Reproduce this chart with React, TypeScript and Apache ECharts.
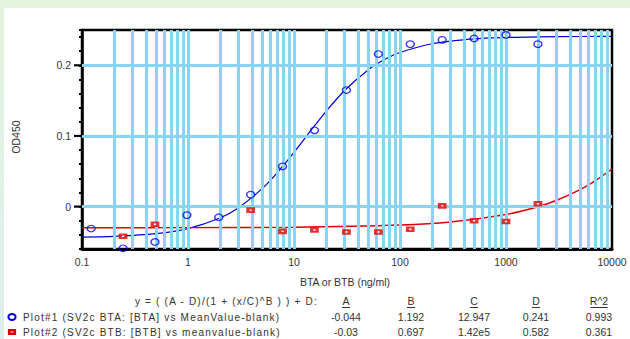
import React, { useEffect, useRef } from "react";
import * as echarts from "echarts";

// ---- data ----
const btaConc = [0.122, 0.244, 0.488, 0.977, 1.95, 3.9, 7.8, 15.6, 31.25, 62.5, 125, 250, 500, 1000, 2000];
const btaOD = [-0.031, -0.059, -0.05, -0.012, -0.015, 0.017, 0.057, 0.108, 0.165, 0.216, 0.23, 0.236, 0.238, 0.243, 0.23];
const btbConc = [0.244, 0.488, 3.9, 7.8, 15.6, 31.25, 62.5, 125, 250, 500, 1000, 2000];
const btbOD = [-0.042, -0.025, -0.005, -0.035, -0.033, -0.036, -0.036, -0.032, 0.001, -0.02, -0.021, 0.004];

// fitted curves
const fitBtaX = [0.1, 0.2, 0.5, 1, 2, 3, 5, 7, 10, 15, 20, 30, 50, 70, 100, 200, 500, 1000, 2000, 5000, 10000];
const fitBtaY = [-0.0431, -0.042, -0.0382, -0.0311, -0.0162, -0.0016, 0.0254, 0.0485, 0.0767, 0.111, 0.1346, 0.1644, 0.1935, 0.2074, 0.2181, 0.2305, 0.2374, 0.2394, 0.2403, 0.2408, 0.2409];
const fitBtbX = [0.1, 1, 10, 100, 300, 1000, 2000, 3000, 5000, 7000, 10000];
const fitBtbY = [-0.03, -0.0298, -0.0292, -0.0261, -0.0218, -0.0112, -0.0002, 0.009, 0.0242, 0.0369, 0.0532];

const xTickLabels = ["0.1", "1", "10", "100", "1000", "10000"];
const yTickLabels = ["0", "0.1", "0.2"];
const gridDecades = [0.1, 1, 10, 100, 1000];
const gridMultipliers = [1, 2, 3, 4, 5, 6, 7, 8, 9];

const formulaLabel = "y = ( (A - D)/(1 + (x/C)^B ) ) + D:";
const paramHeaders = ["A", "B", "C", "D", "R^2"];
const plot1Label = "Plot#1 (SV2c BTA: [BTA] vs MeanValue-blank)";
const plot1Params = ["-0.044", "1.192", "12.947", "0.241", "0.993"];
const plot2Label = "Plot#2 (SV2c BTB: [BTB] vs meanvalue-blank)";
const plot2Params = ["-0.03", "0.697", "1.42e5", "0.582", "0.361"];

const FONT = "'Liberation Sans', Arial, sans-serif";
const TXT = "#333";
const BLUE = "#0000dd";
const RED = "#dd0000";
const GRIDC = "#8ad4f3";
const SPACED = 10.01; // font size used by letter-spaced texts (matched by CSS below)

const colX = [346, 411, 474, 536, 599];
const rowY = [301, 317, 332];

function textEl(text: string, x: number, y: number, align: string, size = 10.5, extra: any = {}) {
  return {
    type: "text",
    x,
    y,
    silent: true,
    ...extra,
    style: {
      text,
      fill: TXT,
      font: `${size}px ${FONT}`,
      align,
      verticalAlign: "middle",
      textAlign: align,
      textVerticalAlign: "middle",
    },
  };
}

export default function App() {
  const ref = useRef<HTMLDivElement>(null);
  useEffect(() => {
    if (!ref.current) return;
    const chart = echarts.init(ref.current, null, { renderer: "svg" });

    const vLines: any[] = [];
    gridDecades.forEach((d) =>
      gridMultipliers.forEach((m) => {
        const v = Number((d * m).toPrecision(3));
        if (v > 0.1 && v < 10000) vLines.push({ xAxis: v });
      })
    );
    const hLines = yTickLabels.map((l) => ({ yAxis: Number(l) }));

    const graphics: any[] = [
      { type: "rect", shape: { x: 0, y: 0, width: 630, height: 8 }, style: { fill: "#e4f3dc" }, silent: true },
      {
        type: "rect",
        shape: { x: 0, y: 0, width: 4, height: 339 },
        style: {
          fill: new echarts.graphic.LinearGradient(0, 0, 0, 1, [
            { offset: 0, color: "#e4f3dc" },
            { offset: 1, color: "#dcefee" },
          ]),
        },
        silent: true,
      },
      textEl("OD450", 16, 137, "center", 10.5, { rotation: Math.PI / 2 }),
      textEl("BTA or BTB (ng/ml)", 345, 282, "center", 10.5),
      textEl(formulaLabel, 318, rowY[0], "right", SPACED),
    ];
    paramHeaders.forEach((h, i) => {
      graphics.push(textEl(h, colX[i], rowY[0], "center", 10.5));
      const w = h.length > 1 ? 17 : 8;
      graphics.push({
        type: "line",
        silent: true,
        shape: { x1: colX[i] - w / 2, y1: rowY[0] + 6.5, x2: colX[i] + w / 2, y2: rowY[0] + 6.5 },
        style: { stroke: TXT, lineWidth: 1 },
      });
    });
    graphics.push({
      type: "ellipse",
      silent: true,
      shape: { cx: 12, cy: rowY[1], rx: 3.6, ry: 3 },
      style: { fill: "none", stroke: BLUE, lineWidth: 2 },
    });
    graphics.push(textEl(plot1Label, 23, rowY[1], "left", SPACED));
    plot1Params.forEach((p, i) => graphics.push(textEl(p, colX[i], rowY[1], "center", 10.5)));
    graphics.push({
      type: "rect",
      silent: true,
      shape: { x: 9.2, y: rowY[2] - 1.7, width: 5.6, height: 3.4 },
      style: { fill: "#fff", stroke: RED, lineWidth: 2.6 },
    });
    graphics.push(textEl(plot2Label, 23, rowY[2], "left", SPACED));
    plot2Params.forEach((p, i) => graphics.push(textEl(p, colX[i], rowY[2], "center", 10.5)));

    const option: any = {
      animation: false,
      backgroundColor: "#fff",
      textStyle: { fontFamily: FONT },
      grid: {
        left: 82,
        top: 30,
        width: 530,
        height: 219,
        show: true,
        borderColor: "#000",
        borderWidth: 2.5,
        backgroundColor: "transparent",
        z: 3,
      },
      xAxis: {
        type: "log",
        logBase: 10,
        min: 0.1,
        max: 10000,
        z: 3,
        axisLine: { show: true, onZero: false, lineStyle: { color: "#000", width: 3 } },
        axisTick: { show: false },
        splitLine: { show: false },
        axisLabel: {
          color: TXT,
          fontSize: 10.5,
          margin: 7,
          formatter: (v: number) => xTickLabels.find((l) => Math.abs(Number(l) - v) / v < 1e-6) ?? "",
        },
      },
      yAxis: {
        type: "value",
        min: -0.06,
        max: 0.25,
        interval: 0.02,
        z: 3,
        axisLine: { show: true, onZero: false, lineStyle: { color: "#000", width: 2.5 } },
        axisTick: { show: true, length: 3, lineStyle: { color: "#000", width: 2 } },
        splitLine: { show: false },
        axisLabel: {
          color: TXT,
          fontSize: 10.5,
          margin: 11,
          showMinLabel: true,
          showMaxLabel: true,
          formatter: (v: number) => yTickLabels.find((l) => Math.abs(Number(l) - v) < 1e-9) ?? "",
        },
      },
      graphic: graphics,
      series: [
        {
          type: "line",
          data: [],
          silent: true,
          z: 1,
          markLine: {
            silent: true,
            symbol: ["none", "none"],
            label: { show: false },
            emphasis: { disabled: true },
            lineStyle: { color: GRIDC, width: 3, type: "solid" },
            data: [...vLines, ...hLines],
          },
        },
        {
          type: "line",
          data: fitBtaX.map((x, i) => [x, fitBtaY[i]]),
          smooth: 0.3,
          showSymbol: false,
          silent: true,
          z: 4,
          lineStyle: { color: BLUE, width: 1.2 },
        },
        {
          type: "line",
          data: fitBtbX.map((x, i) => [x, fitBtbY[i]]),
          smooth: 0.3,
          showSymbol: false,
          silent: true,
          z: 4,
          lineStyle: { color: RED, width: 1.4 },
        },
        {
          type: "scatter",
          data: btaConc.map((x, i) => [x, btaOD[i]]),
          symbol: "circle",
          symbolSize: [8, 6.5],
          silent: true,
          z: 5,
          itemStyle: { color: "rgba(255,255,255,0)", borderColor: "#0000ee", borderWidth: 1.3 },
        },
        {
          type: "scatter",
          data: btbConc.map((x, i) => [x, btbOD[i]]),
          symbol: "rect",
          symbolSize: [5.5, 3.5],
          silent: true,
          z: 5,
          itemStyle: { color: "#fff", borderColor: RED, borderWidth: 2.6 },
        },
        {
          type: "custom",
          silent: true,
          z: 6,
          data: yTickLabels.map((l) => [0.1, Number(l)]),
          renderItem: (params: any, api: any) => {
            const p = api.coord([api.value(0), api.value(1)]);
            return {
              type: "line",
              shape: { x1: p[0] - 8, y1: p[1], x2: p[0], y2: p[1] },
              style: { stroke: "#000", lineWidth: 2.2 },
            };
          },
        },
      ],
    };
    chart.setOption(option);
    return () => chart.dispose();
  }, []);

  return (
    <>
      <style>{`#refchart text[style*="${SPACED}px"] { letter-spacing: 1.2px; }`}</style>
      <div
        id="refchart"
        ref={ref}
        style={{ position: "fixed", left: 0, top: 0, width: 630, height: 339, background: "#fff" }}
      />
    </>
  );
}
